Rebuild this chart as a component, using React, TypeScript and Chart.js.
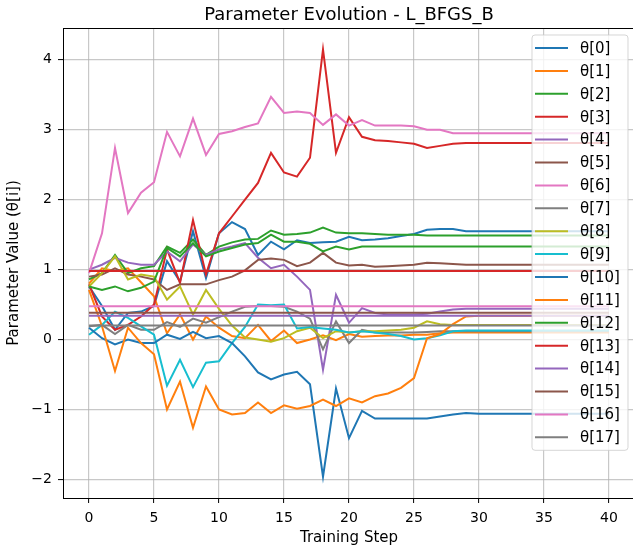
import React, { useEffect, useRef } from "react";
import { Chart, registerables } from "chart.js";

Chart.register(...registerables);

const TITLE = "Parameter Evolution - L_BFGS_B";
const X_LABEL = "Training Step";
const Y_LABEL = "Parameter Value (θ[i])";

const STEPS = [0, 1, 2, 3, 4, 5, 6, 7, 8, 9, 10, 11, 12, 13, 14, 15, 16, 17, 18, 19, 20, 21, 22, 23, 24, 25, 26, 27, 28, 29, 30, 31, 32, 33, 34, 35, 36, 37, 38, 39, 40];
const X_TICKS = [0, 5, 10, 15, 20, 25, 30, 35, 40];
const Y_TICKS = [-2, -1, 0, 1, 2, 3, 4];

const THETA_0 = [0.76, 0.48, 0.14, 0.38, 0.40, 0.48, 1.12, 0.83, 1.55, 0.88, 1.52, 1.68, 1.58, 1.21, 1.40, 1.29, 1.42, 1.38, 1.39, 1.40, 1.47, 1.42, 1.43, 1.45, 1.48, 1.51, 1.57, 1.58, 1.58, 1.55, 1.55, 1.55, 1.55, 1.55, 1.55, 1.55, 1.55, 1.55, 1.55, 1.55, 1.55];
const THETA_1 = [0.80, 1.02, 0.98, 1.02, 0.82, 0.62, 0.09, 0.36, 0.00, 0.33, 0.17, 0.05, 0.02, 0.21, -0.02, 0.13, -0.05, 0.00, 0.06, -0.01, 0.08, 0.04, 0.05, 0.06, 0.06, 0.07, 0.07, 0.09, 0.10, 0.10, 0.10, 0.10, 0.10, 0.10, 0.10, 0.10, 0.10, 0.10, 0.10, 0.10, 0.10];
const THETA_2 = [0.86, 0.95, 1.21, 0.95, 1.02, 1.05, 1.33, 1.24, 1.43, 1.21, 1.33, 1.39, 1.43, 1.44, 1.56, 1.50, 1.51, 1.53, 1.60, 1.53, 1.52, 1.52, 1.51, 1.50, 1.50, 1.50, 1.49, 1.49, 1.49, 1.49, 1.49, 1.49, 1.49, 1.49, 1.49, 1.49, 1.49, 1.49, 1.49, 1.49, 1.49];
const THETA_3 = [0.79, 0.33, 0.14, 0.21, 0.33, 0.50, 1.29, 0.81, 1.71, 0.93, 1.52, 1.76, 2.00, 2.24, 2.67, 2.39, 2.33, 2.60, 4.15, 2.67, 3.18, 2.90, 2.85, 2.84, 2.82, 2.80, 2.74, 2.77, 2.80, 2.81, 2.81, 2.81, 2.81, 2.81, 2.81, 2.81, 2.81, 2.81, 2.81, 2.81, 2.81];
const THETA_4 = [1.00, 1.07, 1.17, 1.10, 1.07, 1.07, 1.26, 1.12, 1.36, 1.21, 1.29, 1.33, 1.38, 1.17, 1.02, 1.07, 0.90, 0.71, -0.43, 0.64, 0.24, 0.45, 0.38, 0.36, 0.36, 0.36, 0.37, 0.40, 0.43, 0.44, 0.44, 0.44, 0.44, 0.44, 0.44, 0.44, 0.44, 0.44, 0.44, 0.44, 0.44];
const THETA_5 = [0.90, 0.93, 1.02, 0.93, 0.90, 0.86, 0.71, 0.79, 0.79, 0.79, 0.85, 0.90, 0.99, 1.14, 1.16, 1.14, 1.05, 1.10, 1.24, 1.10, 1.06, 1.07, 1.04, 1.05, 1.06, 1.07, 1.10, 1.09, 1.08, 1.07, 1.07, 1.07, 1.07, 1.07, 1.07, 1.07, 1.07, 1.07, 1.07, 1.07, 1.07];
const THETA_6 = [0.95, 1.52, 2.74, 1.81, 2.10, 2.25, 2.97, 2.62, 3.16, 2.64, 2.94, 2.98, 3.04, 3.09, 3.47, 3.24, 3.26, 3.24, 3.07, 3.22, 3.06, 3.14, 3.06, 3.06, 3.06, 3.05, 3.00, 3.00, 2.95, 2.95, 2.95, 2.95, 2.95, 2.95, 2.95, 2.95, 2.95, 2.95, 2.95, 2.95, 2.95];
const THETA_7 = [0.19, 0.21, 0.08, 0.21, 0.14, 0.14, 0.25, 0.18, 0.30, 0.24, 0.32, 0.40, 0.47, 0.48, 0.48, 0.47, 0.40, 0.30, -0.14, 0.26, -0.05, 0.14, 0.10, 0.10, 0.10, 0.10, 0.11, 0.12, 0.12, 0.12, 0.12, 0.12, 0.12, 0.12, 0.12, 0.12, 0.12, 0.12, 0.12, 0.12, 0.12];
const THETA_8 = [0.76, 0.95, 1.19, 0.86, 0.93, 0.90, 0.57, 0.76, 0.36, 0.71, 0.44, 0.20, 0.03, 0.00, -0.03, 0.02, 0.12, 0.17, 0.02, 0.12, 0.10, 0.12, 0.12, 0.13, 0.14, 0.17, 0.26, 0.22, 0.21, 0.21, 0.21, 0.21, 0.21, 0.21, 0.21, 0.21, 0.21, 0.21, 0.21, 0.21, 0.21];
const THETA_9 = [0.07, 0.21, 0.40, 0.31, 0.19, 0.07, -0.66, -0.29, -0.68, -0.33, -0.31, -0.05, 0.18, 0.50, 0.49, 0.50, 0.16, 0.18, 0.16, 0.14, 0.10, 0.12, 0.10, 0.08, 0.05, 0.00, 0.02, 0.06, 0.12, 0.13, 0.13, 0.13, 0.13, 0.13, 0.13, 0.13, 0.13, 0.13, 0.13, 0.13, 0.13];
const THETA_10 = [0.17, 0.02, -0.07, 0.00, -0.05, -0.05, 0.07, 0.01, 0.11, 0.02, 0.05, -0.05, -0.24, -0.47, -0.57, -0.50, -0.46, -0.64, -1.96, -0.70, -1.41, -1.02, -1.13, -1.13, -1.13, -1.13, -1.13, -1.10, -1.07, -1.05, -1.06, -1.06, -1.06, -1.06, -1.06, -1.06, -1.06, -1.06, -1.06, -1.06, -1.06];
const THETA_11 = [0.71, 0.19, -0.45, 0.17, -0.05, -0.21, -1.00, -0.60, -1.26, -0.67, -1.00, -1.07, -1.05, -0.90, -1.05, -0.94, -0.99, -0.95, -0.86, -0.95, -0.84, -0.90, -0.81, -0.77, -0.69, -0.55, 0.02, 0.08, 0.22, 0.33, 0.34, 0.34, 0.34, 0.34, 0.34, 0.34, 0.34, 0.34, 0.34, 0.34, 0.34];
const THETA_12 = [0.76, 0.71, 0.76, 0.69, 0.74, 0.83, 1.31, 1.19, 1.38, 1.19, 1.26, 1.31, 1.36, 1.38, 1.50, 1.40, 1.40, 1.37, 1.26, 1.33, 1.29, 1.33, 1.33, 1.33, 1.33, 1.33, 1.33, 1.33, 1.33, 1.33, 1.33, 1.33, 1.33, 1.33, 1.33, 1.33, 1.33, 1.33, 1.33, 1.33, 1.33];
const THETA_13 = [0.98, 0.98, 0.98, 0.98, 0.98, 0.98, 0.98, 0.98, 0.98, 0.98, 0.98, 0.98, 0.98, 0.98, 0.98, 0.98, 0.98, 0.98, 0.98, 0.98, 0.98, 0.98, 0.98, 0.98, 0.98, 0.98, 0.98, 0.98, 0.98, 0.98, 0.98, 0.98, 0.98, 0.98, 0.98, 0.98, 0.98, 0.98, 0.98, 0.98, 0.98];
const THETA_14 = [0.34, 0.34, 0.34, 0.34, 0.34, 0.34, 0.34, 0.34, 0.34, 0.34, 0.34, 0.34, 0.34, 0.34, 0.34, 0.34, 0.34, 0.34, 0.34, 0.34, 0.34, 0.34, 0.34, 0.34, 0.34, 0.34, 0.34, 0.34, 0.34, 0.34, 0.34, 0.34, 0.34, 0.34, 0.34, 0.34, 0.34, 0.34, 0.34, 0.34, 0.34];
const THETA_15 = [0.385, 0.385, 0.385, 0.385, 0.385, 0.385, 0.385, 0.385, 0.385, 0.385, 0.385, 0.385, 0.385, 0.385, 0.385, 0.385, 0.385, 0.385, 0.385, 0.385, 0.385, 0.385, 0.385, 0.385, 0.385, 0.385, 0.385, 0.385, 0.385, 0.385, 0.385, 0.385, 0.385, 0.385, 0.385, 0.385, 0.385, 0.385, 0.385, 0.385, 0.385];
const THETA_16 = [0.475, 0.475, 0.475, 0.475, 0.475, 0.475, 0.475, 0.475, 0.475, 0.475, 0.475, 0.475, 0.475, 0.475, 0.475, 0.475, 0.475, 0.475, 0.475, 0.475, 0.475, 0.475, 0.475, 0.475, 0.475, 0.475, 0.475, 0.475, 0.475, 0.475, 0.475, 0.475, 0.475, 0.475, 0.475, 0.475, 0.475, 0.475, 0.475, 0.475, 0.475];
const THETA_17 = [0.20, 0.20, 0.20, 0.20, 0.20, 0.20, 0.20, 0.20, 0.20, 0.20, 0.20, 0.20, 0.20, 0.20, 0.20, 0.20, 0.20, 0.20, 0.20, 0.20, 0.20, 0.20, 0.20, 0.20, 0.20, 0.20, 0.20, 0.20, 0.20, 0.20, 0.20, 0.20, 0.20, 0.20, 0.20, 0.20, 0.20, 0.20, 0.20, 0.20, 0.20];

const SERIES = [THETA_0, THETA_1, THETA_2, THETA_3, THETA_4, THETA_5, THETA_6, THETA_7, THETA_8, THETA_9, THETA_10, THETA_11, THETA_12, THETA_13, THETA_14, THETA_15, THETA_16, THETA_17];
const LABELS = ["θ[0]", "θ[1]", "θ[2]", "θ[3]", "θ[4]", "θ[5]", "θ[6]", "θ[7]", "θ[8]", "θ[9]", "θ[10]", "θ[11]", "θ[12]", "θ[13]", "θ[14]", "θ[15]", "θ[16]", "θ[17]"];
const PALETTE = ["#1f77b4", "#ff7f0e", "#2ca02c", "#d62728", "#9467bd", "#8c564b", "#e377c2", "#7f7f7f", "#bcbd22", "#17becf"];

const FONT = '"DejaVu Sans", sans-serif';

const decorPlugin = {
  id: "decor",
  afterDraw(chart: any) {
    const { ctx, chartArea: a } = chart;
    ctx.save();
    // top and right spines
    ctx.strokeStyle = "#000";
    ctx.lineWidth = 1;
    ctx.beginPath();
    ctx.moveTo(a.left, a.top + 0.5);
    ctx.lineTo(a.right - 0.5, a.top + 0.5);
    ctx.lineTo(a.right - 0.5, a.bottom);
    ctx.stroke();

    const cx = (a.left + a.right) / 2;
    ctx.fillStyle = "#000";
    ctx.textAlign = "center";
    ctx.textBaseline = "alphabetic";
    ctx.font = `18px ${FONT}`;
    ctx.fillText(TITLE, cx, 20);

    ctx.font = `15px ${FONT}`;
    ctx.textBaseline = "middle";
    ctx.fillText(X_LABEL, cx, 538);

    ctx.save();
    ctx.translate(14, (a.top + a.bottom) / 2);
    ctx.rotate(-Math.PI / 2);
    ctx.fillText(Y_LABEL, 0, 0);
    ctx.restore();

    // legend
    const n = chart.data.datasets.length;
    const boxRight = a.right - 7;
    const boxLeft = boxRight - 96;
    const boxTop = a.top + 7;
    const spacing = 22.9;
    const boxH = 13 + (n - 1) * spacing + 13;
    const r = 3;
    ctx.beginPath();
    ctx.moveTo(boxLeft + r, boxTop);
    ctx.lineTo(boxRight - r, boxTop);
    ctx.quadraticCurveTo(boxRight, boxTop, boxRight, boxTop + r);
    ctx.lineTo(boxRight, boxTop + boxH - r);
    ctx.quadraticCurveTo(boxRight, boxTop + boxH, boxRight - r, boxTop + boxH);
    ctx.lineTo(boxLeft + r, boxTop + boxH);
    ctx.quadraticCurveTo(boxLeft, boxTop + boxH, boxLeft, boxTop + boxH - r);
    ctx.lineTo(boxLeft, boxTop + r);
    ctx.quadraticCurveTo(boxLeft, boxTop, boxLeft + r, boxTop);
    ctx.closePath();
    ctx.fillStyle = "rgba(255,255,255,0.8)";
    ctx.fill();
    ctx.strokeStyle = "rgba(204,204,204,0.8)";
    ctx.lineWidth = 1;
    ctx.stroke();

    ctx.textAlign = "left";
    ctx.textBaseline = "middle";
    ctx.font = `15px ${FONT}`;
    chart.data.datasets.forEach((ds: any, i: number) => {
      const y = boxTop + 13 + i * spacing;
      ctx.strokeStyle = ds.borderColor;
      ctx.lineWidth = 2;
      ctx.beginPath();
      ctx.moveTo(boxLeft + 3, y);
      ctx.lineTo(boxLeft + 36, y);
      ctx.stroke();
      ctx.fillStyle = "#000";
      ctx.fillText(ds.label, boxLeft + 48, y + 1);
    });
    ctx.restore();
  },
};

export default function App() {
  const canvasRef = useRef<HTMLCanvasElement | null>(null);

  useEffect(() => {
    const canvas = canvasRef.current;
    if (!canvas) return;
    const datasets = SERIES.map((vals, i) => ({
      label: LABELS[i],
      data: STEPS.map((s, j) => ({ x: s, y: vals[j] })),
      borderColor: PALETTE[i % PALETTE.length],
      backgroundColor: PALETTE[i % PALETTE.length],
      borderWidth: 2,
      pointRadius: 0,
      tension: 0,
      fill: false,
      order: SERIES.length - i,
    }));

    const chart = new Chart(canvas, {
      type: "line",
      data: { datasets },
      options: {
        animation: false,
        responsive: false,
        devicePixelRatio: 1,
        layout: { padding: { top: 28, right: 7, left: 0, bottom: 0 } },
        plugins: {
          legend: { display: false },
          tooltip: { enabled: false },
          title: { display: false },
        },
        scales: {
          x: {
            type: "linear",
            min: -2,
            max: 42,
            afterBuildTicks: (scale: any) => {
              scale.ticks = X_TICKS.map((v) => ({ value: v }));
            },
            afterFit: (scale: any) => {
              scale.height = 55;
            },
            ticks: {
              color: "#000",
              font: { family: FONT, size: 14 },
              padding: 7,
              maxRotation: 0,
              autoSkip: false,
              callback: (v: any) => String(v),
            },
            grid: {
              color: "rgba(176,176,176,0.7)",
              lineWidth: 1.2,
              tickColor: "#000",
              tickLength: 5,
              tickWidth: 1,
            },
            border: { display: true, color: "#000", width: 1 },
          },
          y: {
            type: "linear",
            min: -2.2655,
            max: 4.4555,
            afterBuildTicks: (scale: any) => {
              scale.ticks = Y_TICKS.map((v) => ({ value: v }));
            },
            afterFit: (scale: any) => {
              scale.width = 63;
            },
            ticks: {
              color: "#000",
              font: { family: FONT, size: 14 },
              padding: 6,
              autoSkip: false,
              callback: (v: any) => (Number(v) < 0 ? "\u2212" + Math.abs(Number(v)) : String(v)),
            },
            grid: {
              color: "rgba(176,176,176,0.7)",
              lineWidth: 1.2,
              tickColor: "#000",
              tickLength: 5,
              tickWidth: 1,
            },
            border: { display: true, color: "#000", width: 1 },
          },
        },
      },
      plugins: [decorPlugin],
    });

    return () => {
      chart.destroy();
    };
  }, []);

  return (
    <div
      style={{
        position: "absolute",
        left: 0,
        top: 0,
        width: 633,
        height: 553,
        overflow: "hidden",
        background: "#fff",
      }}
    >
      <canvas ref={canvasRef} width={642} height={553} style={{ width: 642, height: 553, display: "block" }} />
    </div>
  );
}
